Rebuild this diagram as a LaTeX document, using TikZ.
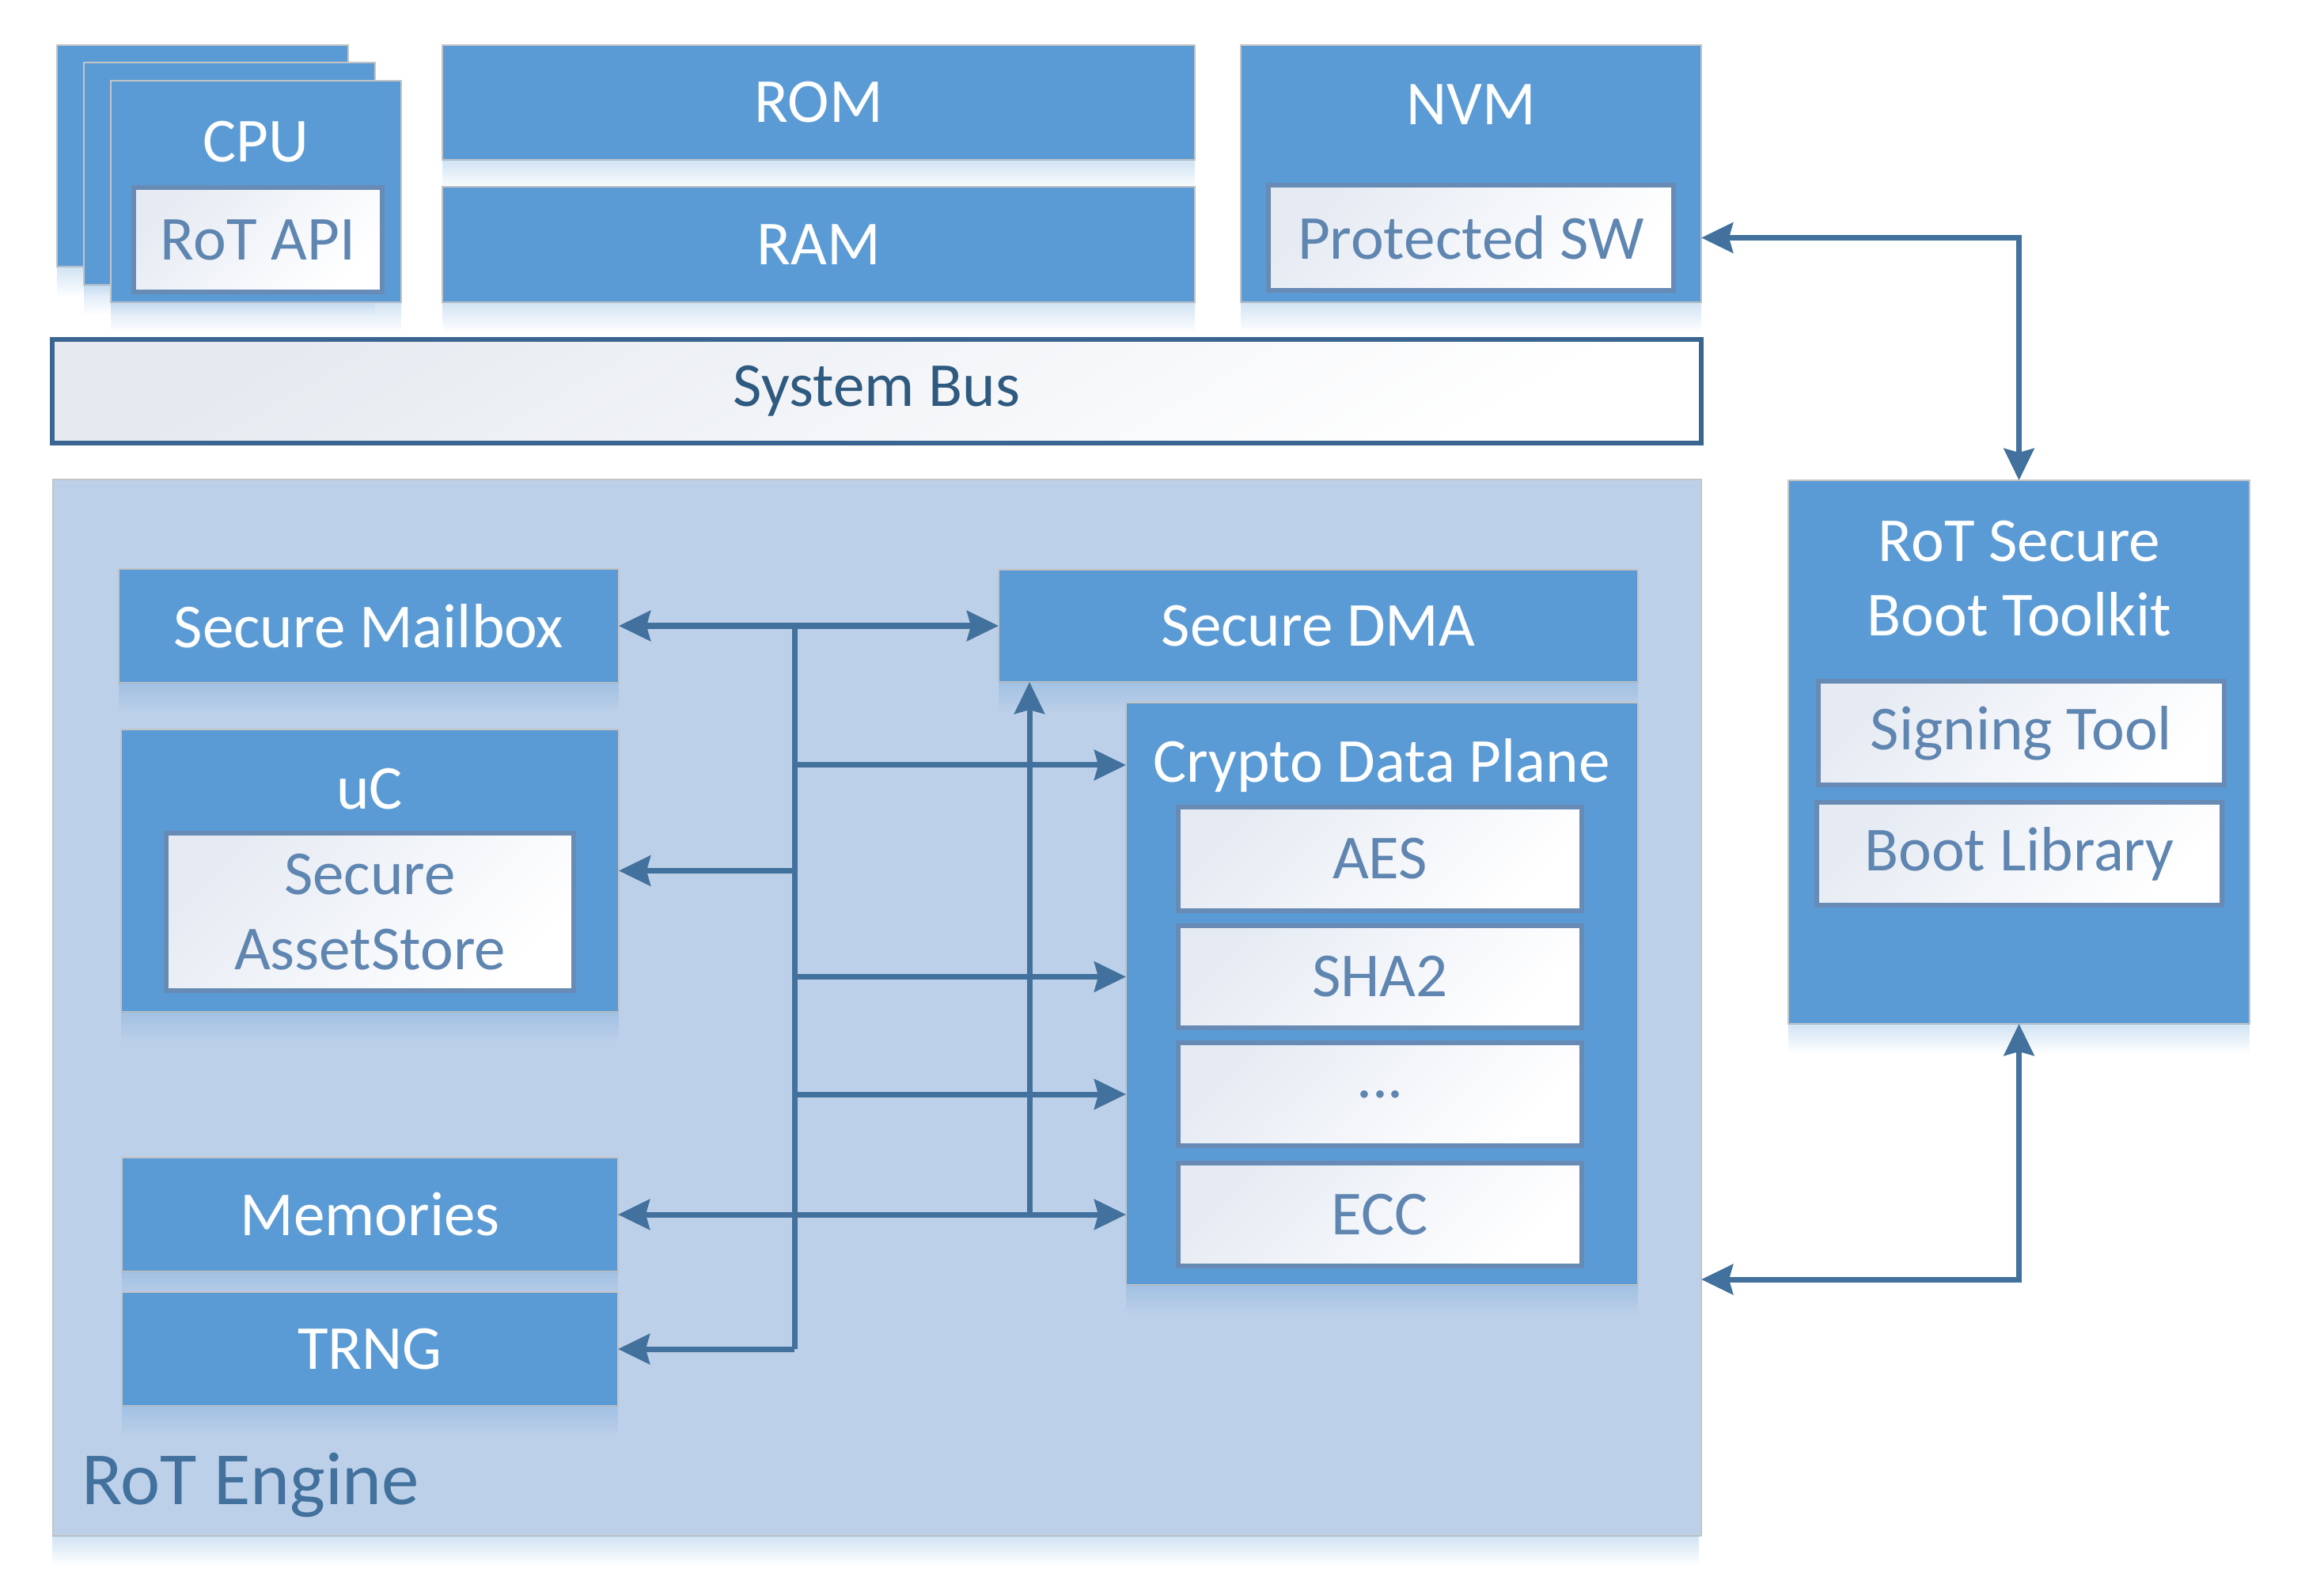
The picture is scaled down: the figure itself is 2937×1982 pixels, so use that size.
\documentclass[tikz,border=0pt]{standalone}
\usepackage{fontspec}
\setmainfont{Carlito}
\usetikzlibrary{arrows.meta,fadings}
\definecolor{boxblue}{HTML}{5B9BD5}
\definecolor{engfill}{HTML}{BDD0E9}
\definecolor{arrowc}{HTML}{41719C}
\definecolor{innerborder}{HTML}{678BB4}
\definecolor{innertext}{HTML}{5F85B1}
\definecolor{innerA}{HTML}{E6EBF3}
\definecolor{busborder}{HTML}{3A6590}
\definecolor{bustext}{HTML}{2F5A80}
\definecolor{busA}{HTML}{E6EAF0}
\definecolor{boxgray}{HTML}{C4C4C4}
\newcommand\myfs{\fontsize{22.5}{26.8}\selectfont}
\newcommand\shadowunder[1]{\fill[boxblue, fill opacity=0.28, path fading=south] (#1.south west) rectangle ([yshift=-0.38cm]#1.south east);}
% box from corners: style, name, x1, y1, x2, y2, text
\newcommand\bx[7]{\node[#1, minimum width={(#5-#3)*0.01cm}, minimum height={(#6-#4)*0.01cm}] (#2) at ({(#3+#5)/2},{(#4+#6)/2}) {#7};}
\tikzset{
  every node/.style={inner sep=0pt, outer sep=0pt},
  bluebox/.style={rectangle, draw=boxgray, line width=0.6pt, fill=boxblue, text=white, font=\myfs, align=center},
  innerbox/.style={rectangle, draw=innerborder, line width=1.6pt, top color=innerA, bottom color=white, shading angle=45, text=innertext, font=\myfs, align=center},
  busbox/.style={rectangle, draw=busborder, line width=1.8pt, top color=busA, bottom color=white, shading angle=30, text=bustext, font=\myfs},
  engbox/.style={rectangle, draw=boxgray, line width=0.6pt, fill=engfill},
  title/.style={anchor=base, text=white, font=\myfs},
  wire/.style={draw=arrowc, line width=2pt},
  arr/.style={wire, -{Stealth[length=0.4cm, width=0.38cm, inset=0.05cm]}},
  arrboth/.style={wire, {Stealth[length=0.4cm, width=0.38cm, inset=0.05cm]}-{Stealth[length=0.4cm, width=0.38cm, inset=0.05cm]}},
}
\begin{document}
\begin{tikzpicture}[x=0.01cm, y=-0.01cm]
\useasboundingbox (0,0) rectangle (2937,1982);

% RoT Engine region
\bx{engbox}{engine}{67}{606}{2150}{1941}{}
\shadowunder{engine}
\node[anchor=base west, text=arrowc, font=\fontsize{27}{31}\selectfont] (englabel) at (103,1901) {RoT Engine};

% CPU stack
\bx{bluebox}{cpu3}{72}{57}{440}{337}{}
\shadowunder{cpu3}
\bx{bluebox}{cpu2}{106}{79}{474}{360}{}
\shadowunder{cpu2}
\bx{bluebox}{cpu1}{140}{102}{507}{382}{}
\shadowunder{cpu1}
\node[title] (cputitle) at (323,205) {CPU};
\bx{innerbox}{rotapi}{169}{237}{483}{369}{RoT API}

% ROM / RAM
\bx{bluebox}{rom}{559}{57}{1510}{202}{ROM}
\shadowunder{rom}
\bx{bluebox}{ram}{559}{236}{1510}{382}{RAM}
\shadowunder{ram}

% NVM
\bx{bluebox}{nvm}{1568}{57}{2150}{382}{}
\shadowunder{nvm}
\node[title] (nvmtitle) at (1859,158) {NVM};
\bx{innerbox}{psw}{1603}{234}{2115}{367}{Protected SW}

% System bus
\bx{busbox}{bus}{66}{429}{2150}{560}{System Bus}

% Engine contents
\bx{bluebox}{mailbox}{150}{719}{782}{863}{Secure Mailbox}
\shadowunder{mailbox}
\bx{bluebox}{uc}{153}{922}{782}{1279}{}
\shadowunder{uc}
\node[title] (uctitle) at (467,1022) {uC};
\bx{innerbox}{asset}{210}{1053}{725}{1252}{Secure\\AssetStore}
\bx{bluebox}{memories}{154}{1463}{781}{1607}{Memories}
\shadowunder{memories}
\bx{bluebox}{trng}{154}{1633}{781}{1777}{TRNG}
\shadowunder{trng}
\bx{bluebox}{dma}{1262}{720}{2070}{862}{Secure DMA}
\shadowunder{dma}
\bx{bluebox}{crypto}{1423}{888}{2070}{1624}{}
\shadowunder{crypto}
\node[title] (ctitle) at (1746,988) {Crypto Data Plane};
\bx{innerbox}{aes}{1489}{1020}{1999}{1151}{AES}
\bx{innerbox}{sha}{1489}{1170}{1999}{1299}{SHA2}
\bx{innerbox}{dots}{1489}{1318}{1999}{1448}{...}
\bx{innerbox}{ecc}{1489}{1470}{1999}{1600}{ECC}

% Toolkit
\bx{bluebox}{toolkit}{2260}{607}{2843}{1294}{}
\shadowunder{toolkit}
\node[title] (tk1) at (2552,709) {RoT Secure};
\node[title] (tk2) at (2552,803) {Boot Toolkit};
\bx{innerbox}{sign}{2298}{861}{2811}{992}{Signing Tool}
\bx{innerbox}{bootlib}{2296}{1014}{2808}{1144}{Boot Library}

% Connectors inside engine
\coordinate (jtop) at (1004,791);
\coordinate (jbot) at (1004,1705);
\coordinate (jdma) at (1301,1535);
\draw[wire] (jtop) -- (jbot);
\draw[arrboth] (mailbox.east) -- (dma.west);
\draw[arr] (jtop |- uc.east) -- (uc.east);
\draw[arr] (jbot) -- (trng.east);
\draw[arr] (jtop |- ctitle.center) -- (crypto.west |- ctitle.center);
\draw[arr] (jtop |- sha.west) -- (crypto.west |- sha.west);
\draw[arr] (jtop |- dots.west) -- (crypto.west |- dots.west);
\draw[arrboth] (memories.east) -- (crypto.west |- memories.east);
\draw[arr] (jdma) -- (jdma |- dma.south);

% Connectors to toolkit
\coordinate (tkturn) at (2552,1617);
\draw[arrboth] (nvm.east |- psw.east) -| (toolkit.north);
\draw[arrboth] (toolkit.south) |- (engine.east |- tkturn);
\end{tikzpicture}
\end{document}
